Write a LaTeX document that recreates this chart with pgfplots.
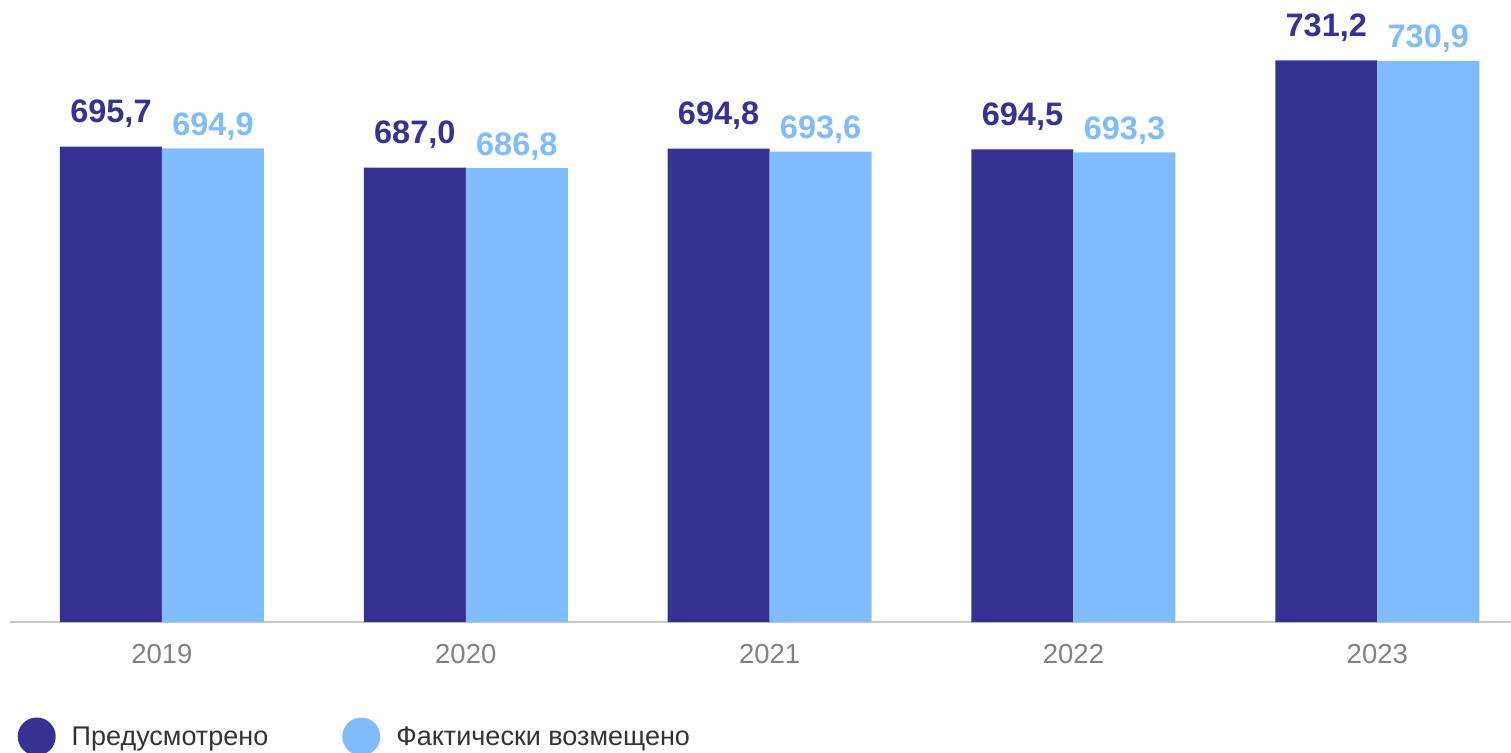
\documentclass[border=0pt]{standalone}
\usepackage{pgfplots}
\pgfplotsset{compat=1.18}
\usepackage{fontspec}
\setmainfont{Liberation Sans}
\definecolor{darkb}{RGB}{55,49,148}
\definecolor{lightb}{RGB}{128,188,252}
\definecolor{axisg}{RGB}{200,200,200}
\definecolor{tickg}{RGB}{128,128,128}
\definecolor{legt}{RGB}{51,51,51}
\begin{document}
\begin{tikzpicture}
\useasboundingbox (0pt,0pt) rectangle (1511pt,-752pt);
\begin{axis}[
  at={(10pt,-622pt)}, anchor=south west,
  scale only axis, width=1501pt, height=622pt,
  ybar=0pt, bar width=102pt,
  xmin=-0.5, xmax=4.44, ymin=500, ymax=756,
  axis x line=bottom, axis y line=none,
  x axis line style={draw=axisg, line width=2pt, -},
  xtick={0,1,2,3,4},
  xticklabels={2019,2020,2021,2022,2023},
  major tick length=0pt,
  xticklabel style={font=\fontsize{27.5}{32}\selectfont, text=tickg, anchor=base, yshift=-41pt},
  /pgf/number format/assume math mode=true,
  /pgf/number format/.cd, use comma, fixed, fixed zerofill, precision=1, 1000 sep={},
  /pgfplots/.cd,
  nodes near coords,
  legend columns=2,
  legend image code/.code={\fill[#1] (19pt,0pt) circle (19pt);},
  legend style={draw=none, fill=none, at={(0.003,-0.150)}, anchor=north west,
    font=\fontsize{27}{32}\selectfont, text=legt,
    /tikz/every even column/.append style={column sep=72pt},
    /tikz/every odd column/.append style={column sep=14pt}},
  clip=false,
]
\addplot[fill=darkb, draw=none,
  nodes near coords style={font=\bfseries\fontsize{32.5}{38}\selectfont, text=darkb, anchor=base, yshift=24pt}]
  coordinates {(0,695.7) (1,687.0) (2,694.8) (3,694.5) (4,731.2)};
\addplot[fill=lightb, draw=none,
  nodes near coords style={font=\bfseries\fontsize{32.5}{38}\selectfont, text=lightb, anchor=base, yshift=13pt}]
  coordinates {(0,694.9) (1,686.8) (2,693.6) (3,693.3) (4,730.9)};
\legend{Предусмотрено, Фактически возмещено}
\end{axis}
\end{tikzpicture}
\end{document}
